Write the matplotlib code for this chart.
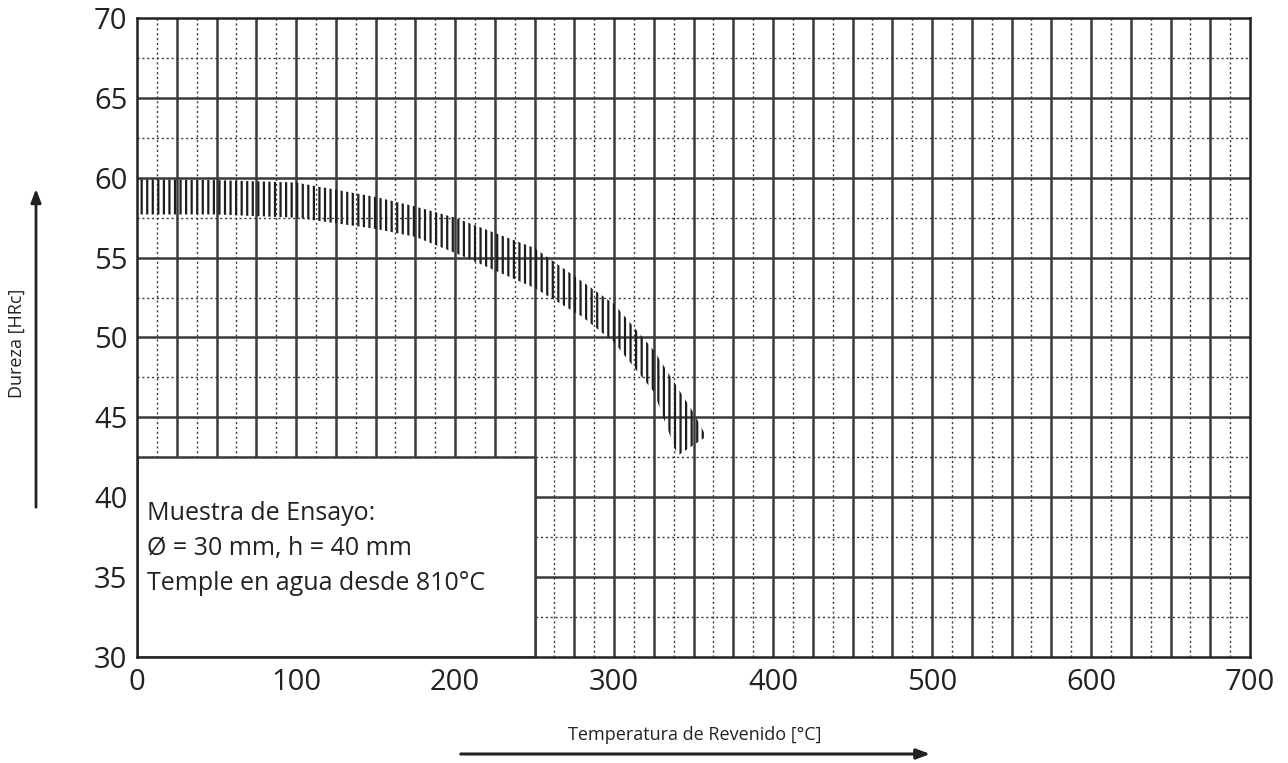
import numpy as np
import matplotlib
matplotlib.use("Agg")
import matplotlib.pyplot as plt
from matplotlib.patches import Rectangle, FancyArrowPatch

plt.rcParams["font.family"] = ["Open Sans", "DejaVu Sans"]
plt.rcParams["hatch.linewidth"] = 1.6

# band limits (temperature in C, hardness in HRc)
upper_x = [0, 50, 100, 150, 175, 200, 250, 280, 300, 325, 350, 358]
upper_y = [59.9, 59.85, 59.7, 58.8, 58.2, 57.5, 55.6, 53.5, 52.1, 49.2, 45.3, 43.8]
lower_x = [0, 50, 100, 150, 175, 200, 250, 280, 300, 325, 340]
lower_y = [57.7, 57.7, 57.5, 56.8, 56.3, 55.3, 53.1, 51.3, 49.7, 46.6, 42.6]

x_ticks = [0, 100, 200, 300, 400, 500, 600, 700]
y_ticks = [30, 35, 40, 45, 50, 55, 60, 65, 70]

note_lines = ["Muestra de Ensayo:", "Ø = 30 mm, h = 40 mm", "Temple en agua desde 810°C"]

fig = plt.figure(figsize=(12.88, 7.63), dpi=100)
ax = fig.add_axes([137 / 1288, 1 - 657 / 763, 1113 / 1288, 639 / 763])
ax.set_xlim(0, 700)
ax.set_ylim(30, 70)

grid_col = "#3a3a3a"
for gx in np.arange(25, 700, 25):
    ax.axvline(gx, color=grid_col, lw=1.8, zorder=1)
for gx in np.arange(12.5, 700, 25):
    ax.axvline(gx, color=grid_col, lw=1.0, ls=(0, (1.5, 2)), zorder=1)
for gy in np.arange(35, 70, 5):
    ax.axhline(gy, color=grid_col, lw=1.8, zorder=1)
for gy in np.arange(32.5, 70, 5):
    ax.axhline(gy, color=grid_col, lw=1.0, ls=(0, (1.5, 2)), zorder=1)

# white note box in the lower left corner
ax.add_patch(Rectangle((0, 30), 250, 12.5, facecolor="white",
                       edgecolor=grid_col, lw=1.8, zorder=2))

# hatched hardness band
band_x = upper_x + lower_x[::-1]
band_y = upper_y + lower_y[::-1]
ax.fill(band_x, band_y, facecolor="none", edgecolor="#1e1e1e",
        hatch="|||", lw=0, zorder=3)

for i, line in enumerate(note_lines):
    ax.text(6, 39.0 - i * 2.2, line, fontsize=18, color="#222222",
            va="center", ha="left", zorder=4)

ax.set_xticks(x_ticks)
ax.set_yticks(y_ticks)
ax.tick_params(length=0, labelsize=21, colors="#222222")
ax.tick_params(axis="x", pad=8)
ax.tick_params(axis="y", pad=7)
for sp in ax.spines.values():
    sp.set_linewidth(1.8)
    sp.set_color("#222222")

fig.text(695 / 1288, 1 - 735 / 763, "Temperatura de Revenido [°C]",
         fontsize=13, ha="center", va="center", color="#222222")
fig.text(17 / 1288, 1 - 343 / 763, "Dureza [HRc]", fontsize=13,
         rotation=90, ha="center", va="center", color="#222222")

fig.patches.append(FancyArrowPatch(
    (458 / 1288, 1 - 754 / 763), (933 / 1288, 1 - 754 / 763),
    transform=fig.transFigure, arrowstyle="-|>,head_length=8,head_width=3",
    color="#222222", lw=2.2))
fig.patches.append(FancyArrowPatch(
    (36 / 1288, 1 - 510 / 763), (36 / 1288, 1 - 186 / 763),
    transform=fig.transFigure, arrowstyle="-|>,head_length=8,head_width=3",
    color="#222222", lw=2))

plt.savefig("out.png", dpi=100)
plt.close(fig)
